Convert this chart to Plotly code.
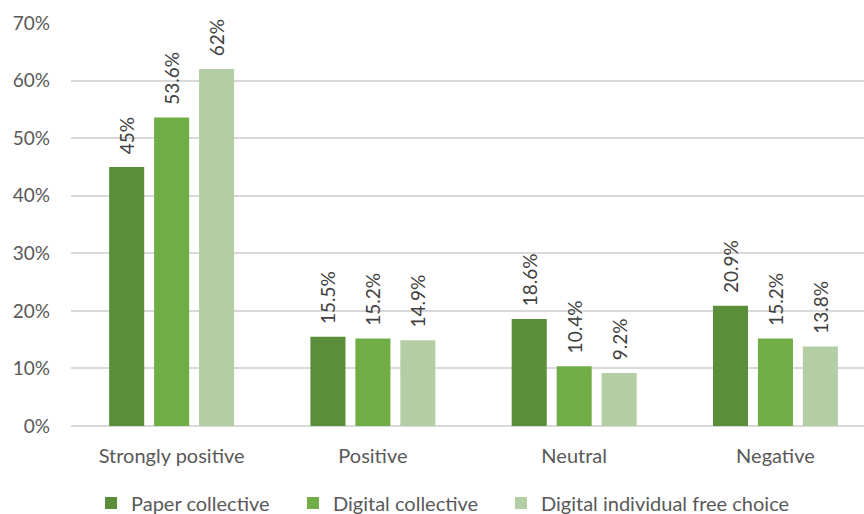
import plotly.graph_objects as go

categories = ["Strongly positive", "Positive", "Neutral", "Negative"]
series_names = ["Paper collective", "Digital collective", "Digital individual free choice"]
paper = [45.0, 15.5, 18.6, 20.9]
digital = [53.6, 15.2, 10.4, 15.2]
individual = [62.0, 14.9, 9.2, 13.8]
labels_paper = ["45%", "15.5%", "18.6%", "20.9%"]
labels_digital = ["53.6%", "15.2%", "10.4%", "15.2%"]
labels_individual = ["62%", "14.9%", "9.2%", "13.8%"]
colors = ["#5B8E3A", "#70AD47", "#B3CEA4"]
y_ticks = [0, 10, 20, 30, 40, 50, 60, 70]
y_tick_labels = ["0%", "10%", "20%", "30%", "40%", "50%", "60%", "70%"]

FONT = "Lato, sans-serif"
PAD = "\u00a0" * 2
legend_ids = ["legend", "legend2", "legend3"]
legend_left_px = [91, 293, 501]

fig = go.Figure()
for name, vals, labs, col, lid in zip(series_names, [paper, digital, individual],
                                      [labels_paper, labels_digital, labels_individual],
                                      colors, legend_ids):
    fig.add_trace(go.Bar(
        x=categories, y=vals, name=name, marker_color=col, marker_line_width=0,
        text=[PAD + l for l in labs], textposition="outside", textangle=-90,
        constraintext="none",
        textfont=dict(family=FONT, size=19, color="#404040"),
        cliponaxis=False, legend=lid,
    ))

legend_common = dict(orientation="h", xanchor="left", y=-(503 - 426) / 403, yanchor="middle",
                     font=dict(family=FONT, size=20, color="#595959"), itemwidth=30,
                     bgcolor="rgba(0,0,0,0)")
fig.update_layout(
    width=864, height=514,
    margin=dict(l=71, r=0, t=23, b=88, autoexpand=False),
    paper_bgcolor="white", plot_bgcolor="white",
    barmode="group", bargap=0.33, bargroupgap=0.22,
    font=dict(family=FONT, size=19, color="#595959"),
    showlegend=True,
    legend=dict(x=(legend_left_px[0] - 71) / 793, **legend_common),
    legend2=dict(x=(legend_left_px[1] - 71) / 793, **legend_common),
    legend3=dict(x=(legend_left_px[2] - 71) / 793, **legend_common),
)
fig.update_xaxes(range=[-0.5, 3.44], showgrid=False, showline=False, ticks="",
                 ticklabelstandoff=16,
                 tickfont=dict(family=FONT, size=20, color="#595959"))
fig.update_yaxes(range=[0, 70], tickvals=y_ticks, ticktext=y_tick_labels,
                 showgrid=True, gridcolor="#D9D9D9", gridwidth=1.5,
                 zeroline=True, zerolinecolor="#D9D9D9", zerolinewidth=1.5,
                 showline=False, ticks="", ticklabelstandoff=20,
                 tickfont=dict(family=FONT, size=19, color="#595959"))

fig.write_html("out.html")
